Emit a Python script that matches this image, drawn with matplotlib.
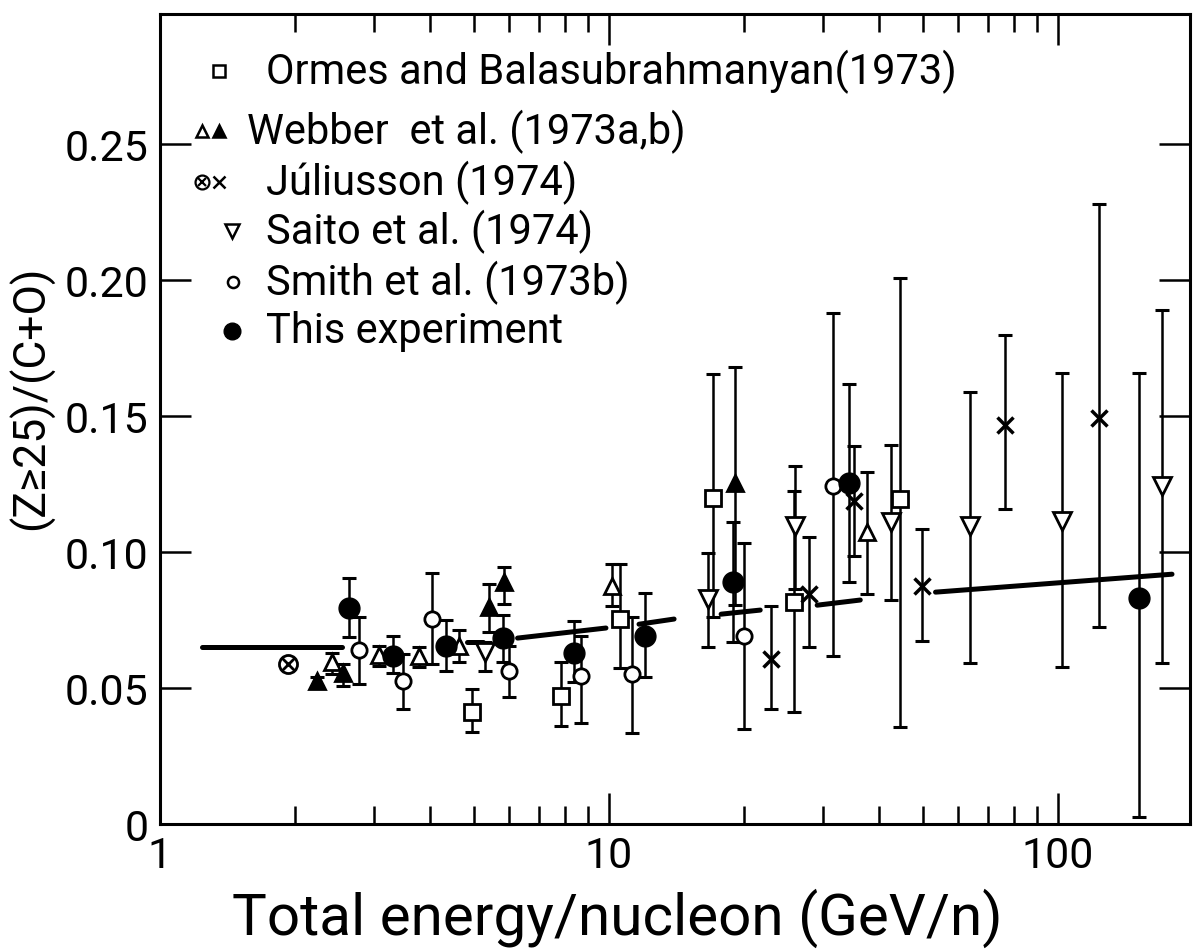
import numpy as np
import matplotlib
matplotlib.use("Agg")
import matplotlib.pyplot as plt

plt.rcParams['font.family'] = ['Roboto', 'DejaVu Sans']

# Ormes and Balasubrahmanyan (1973) - open squares
orm_x = [4.95, 7.81, 10.58, 17.07, 25.9, 44.6]
orm_y = [0.0412, 0.0471, 0.0754, 0.1199, 0.0816, 0.1195]
orm_lo = [0.0338, 0.036, 0.0574, 0.0761, 0.0412, 0.0357]
orm_hi = [0.0496, 0.0596, 0.0956, 0.1654, 0.1224, 0.201]

# Webber et al. (1973a) - open triangles
web_a_x = [2.42, 3.08, 3.77, 4.63, 10.16, 37.5]
web_a_y = [0.0596, 0.0621, 0.0618, 0.0654, 0.0875, 0.1074]
web_a_lo = [0.0551, 0.0581, 0.0577, 0.0596, 0.0801, 0.0846]
web_a_hi = [0.0629, 0.0654, 0.0651, 0.0713, 0.0956, 0.1294]

# Webber et al. (1973b) - filled triangles
web_b_x = [2.24, 2.56, 5.40, 5.83, 19.1]
web_b_y = [0.0526, 0.0555, 0.0798, 0.089, 0.1254]
web_b_lo = [0.0508, 0.0507, 0.0706, 0.0809, 0.0805]
web_b_hi = [0.0542, 0.0588, 0.0882, 0.0945, 0.168]

# Juliusson (1974) - circled cross and crosses
jul_o_x = [1.93]
jul_o_y = [0.0588]
jul_x = [23.0, 27.9, 35.2, 49.7, 76.2, 123.5]
jul_y = [0.0607, 0.0846, 0.1188, 0.0875, 0.1467, 0.1493]
jul_lo = [0.0423, 0.0651, 0.0985, 0.0673, 0.1158, 0.0724]
jul_hi = [0.0801, 0.1055, 0.139, 0.1085, 0.18, 0.228]

# Saito et al. (1974) - open inverted triangles
sai_x = [5.31, 16.63, 26.0, 42.6, 63.6, 102.0, 170.7]
sai_y = [0.0632, 0.0827, 0.1096, 0.111, 0.1096, 0.1114, 0.1243]
sai_lo = [0.0563, 0.0651, 0.0864, 0.0824, 0.0592, 0.0577, 0.0592]
sai_hi = [0.067, 0.0996, 0.1316, 0.1393, 0.159, 0.166, 0.189]

# Smith et al. (1973b) - open circles
smi_x = [2.78, 3.47, 4.03, 5.98, 8.66, 11.25, 20.0, 31.6]
smi_y = [0.064, 0.0526, 0.0754, 0.0563, 0.0544, 0.0551, 0.0691, 0.1243]
smi_lo = [0.0515, 0.0423, 0.0588, 0.0467, 0.0371, 0.0335, 0.0349, 0.0618]
smi_hi = [0.0761, 0.0625, 0.0923, 0.0654, 0.0691, 0.0761, 0.1033, 0.188]

# This experiment - filled circles
exp_x = [2.64, 3.31, 4.33, 5.80, 8.35, 12.03, 18.9, 34.3, 151.7]
exp_y = [0.0794, 0.0618, 0.0654, 0.0684, 0.0629, 0.0691, 0.089, 0.1254, 0.0831]
exp_lo = [0.0688, 0.0555, 0.0563, 0.0596, 0.0522, 0.054, 0.0669, 0.089, 0.0026]
exp_hi = [0.0904, 0.0691, 0.075, 0.0768, 0.0746, 0.0849, 0.111, 0.162, 0.166]

# model curve, drawn as broken pieces (x0, x1, y0, y1)
model_x0 = [1.241, 4.84, 6.26, 11.67, 17.78, 29.1, 53.4]
model_x1 = [2.548, 5.23, 9.85, 13.97, 21.73, 36.3, 179.6]
model_y0 = [0.065, 0.0669, 0.0684, 0.0735, 0.0772, 0.0805, 0.0853]
model_y1 = [0.065, 0.0669, 0.0721, 0.0754, 0.0787, 0.0824, 0.0919]

legend_labels = ["Ormes and Balasubrahmanyan(1973)", "Webber  et al. (1973a,b)",
                 "J\u00faliusson (1974)", "Saito et al. (1974)",
                 "Smith et al. (1973b)", "This experiment"]

fig = plt.figure(figsize=(12, 9.53), dpi=100)
ax = fig.add_axes([0.1333, 0.1343, 0.8584, 0.8500])

k = 'black'

def draw(xs, ys, lo, hi, **kw):
    ys = np.array(ys)
    yerr = [ys - np.array(lo), np.array(hi) - ys]
    ax.errorbar(xs, ys, yerr=yerr, fmt='none', ecolor=k, elinewidth=1.8,
                capsize=5, capthick=2.2, zorder=2)
    ax.plot(xs, ys, linestyle='none', color=k, zorder=3, **kw)

for i in range(len(model_x0)):
    ax.plot([model_x0[i], model_x1[i]], [model_y0[i], model_y1[i]],
            color=k, lw=3.6, solid_capstyle='round', zorder=1)

draw(orm_x, orm_y, orm_lo, orm_hi, marker='s', ms=11, mfc='white', mec=k, mew=2)
draw(web_a_x, web_a_y, web_a_lo, web_a_hi, marker='^', ms=12, mfc='white', mec=k, mew=2)
draw(web_b_x, web_b_y, web_b_lo, web_b_hi, marker='^', ms=12, mfc=k, mec=k, mew=2)
draw(jul_x, jul_y, jul_lo, jul_hi, marker='x', ms=11, mec=k, mew=2.5)
draw(sai_x, sai_y, sai_lo, sai_hi, marker='v', ms=13, mfc='white', mec=k, mew=2)
draw(smi_x, smi_y, smi_lo, smi_hi, marker='o', ms=11, mfc='white', mec=k, mew=2)
draw(exp_x, exp_y, exp_lo, exp_hi, marker='o', ms=15, mfc=k, mec=k)
ax.plot(jul_o_x, jul_o_y, linestyle='none', marker='o', ms=13, mfc='white', mec=k, mew=2, zorder=3)
ax.plot(jul_o_x, jul_o_y, linestyle='none', marker='x', ms=8, mec=k, mew=2, zorder=4)

ax.set_xscale('log')
ax.set_xlim(1, 197)
ax.set_ylim(0, 0.298)
ax.set_xticks([1, 10, 100])
ax.set_xticklabels(["1", "10", "100"])
ax.set_yticks([0, 0.05, 0.10, 0.15, 0.20, 0.25])
ax.set_yticklabels(["0", "0.05", "0.10", "0.15", "0.20", "0.25"])
ax.yaxis.set_minor_locator(matplotlib.ticker.NullLocator())
ax.tick_params(which='both', direction='in', top=True, right=True, width=1.8, labelsize=31)
ax.tick_params(which='major', length=22, pad=8)
ax.tick_params(which='minor', length=13)
ax.xaxis.set_minor_formatter(matplotlib.ticker.NullFormatter())
for s in ax.spines.values():
    s.set_linewidth(2.2)

ax.set_xlabel("Total energy/nucleon (GeV/n)", fontsize=42)
ax.xaxis.set_label_coords(0.444, -0.078)
ax.set_ylabel("(Z\u226525)/(C+O)", fontsize=32)
ax.yaxis.set_label_coords(-0.103, 0.527)

# legend drawn by hand, the original has ragged marker columns
rows = [0.930, 0.855, 0.793, 0.732, 0.669, 0.609]
text_x = [0.103, 0.0845, 0.103, 0.103, 0.103, 0.103]
tr = ax.transAxes
for lab, ry, tx in zip(legend_labels, rows, text_x):
    ax.text(tx, ry, lab, transform=tr, fontsize=30, va='center', ha='left')
ax.plot([0.0573], [rows[0]], transform=tr, marker='s', ms=8, mfc='white', mec=k, mew=1.8)
ax.plot([0.041], [rows[1]], transform=tr, marker='^', ms=9, mfc='white', mec=k, mew=1.8)
ax.plot([0.0573], [rows[1]], transform=tr, marker='^', ms=9, mfc=k, mec=k, mew=1.8)
ax.plot([0.041], [rows[2]], transform=tr, marker='o', ms=10, mfc='white', mec=k, mew=1.6)
ax.plot([0.041], [rows[2]], transform=tr, marker='x', ms=6, mec=k, mew=1.6)
ax.plot([0.0573], [rows[2]], transform=tr, marker='x', ms=8, mec=k, mew=1.8)
ax.plot([0.070], [rows[3]], transform=tr, marker='v', ms=10, mfc='white', mec=k, mew=1.8)
ax.plot([0.071], [rows[4]], transform=tr, marker='o', ms=8, mfc='white', mec=k, mew=1.8)
ax.plot([0.070], [rows[5]], transform=tr, marker='o', ms=12, mfc=k, mec=k)

fig.savefig("out.png", dpi=100)
